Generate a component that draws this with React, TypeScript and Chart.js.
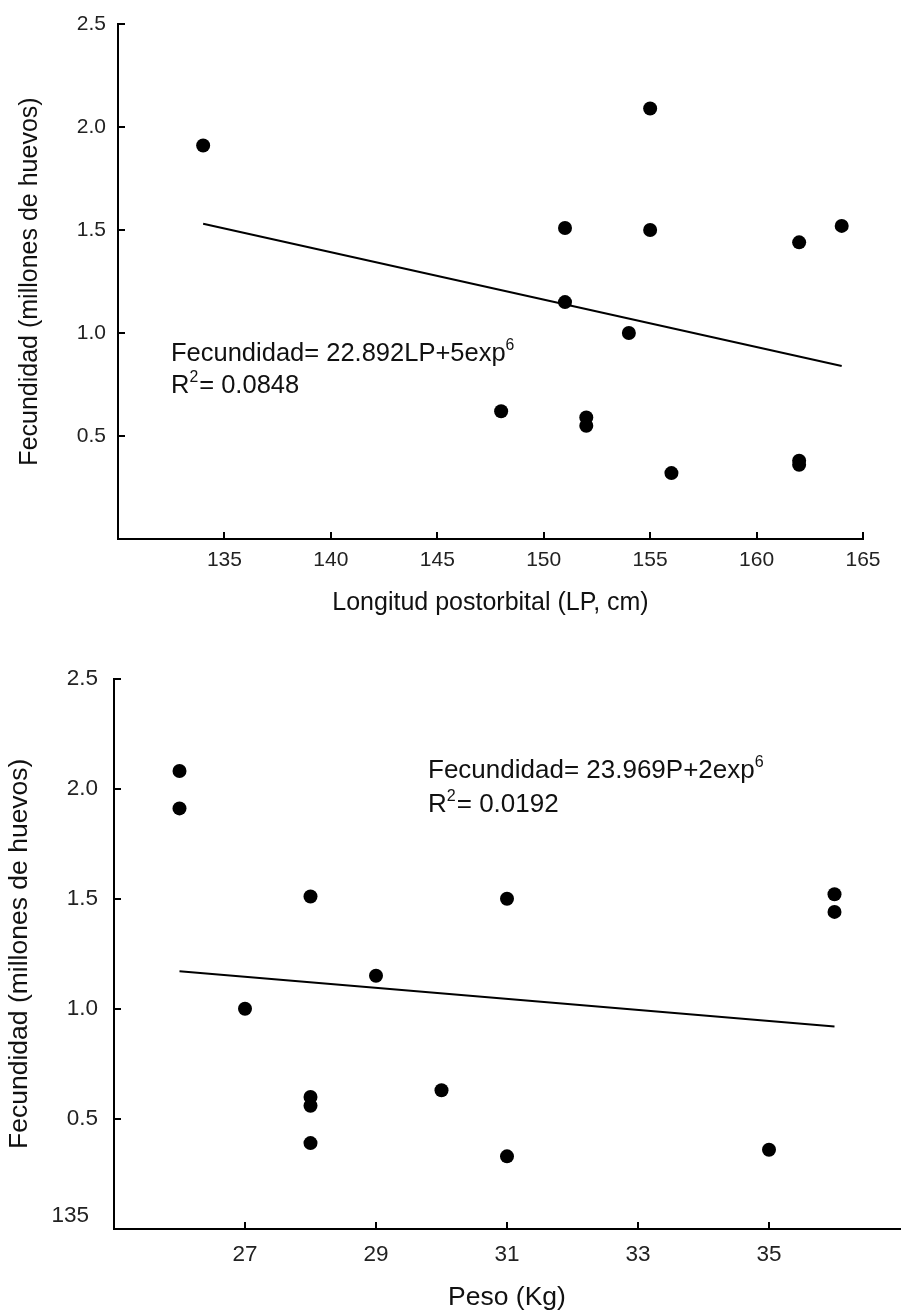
import React, { useEffect, useRef } from "react";
import { Chart, registerables } from "chart.js";

Chart.register(...registerables);

const FONT = "'Liberation Sans', Arial, Helvetica, sans-serif";

// ---- Top chart: fecundity vs postorbital length ----
const lpValues = [134, 148, 151, 151, 152, 152, 154, 155, 155, 156, 162, 162, 162, 164];
const lpFecundity = [1.91, 0.62, 1.51, 1.15, 0.59, 0.55, 1.0, 2.09, 1.5, 0.32, 1.44, 0.38, 0.36, 1.52];
const lpTrendX = [134, 164];
const lpTrendY = [1.53, 0.84];
const lpXTicks = [135, 140, 145, 150, 155, 160, 165];
const lpEquation = "Fecundidad= 22.892LP+5exp";
const lpEquationSup = "6";
const lpR2 = "= 0.0848";

// ---- Bottom chart: fecundity vs weight ----
const pesoValues = [26, 26, 27, 28, 28, 28, 28, 29, 30, 31, 31, 35, 36, 36];
const pesoFecundity = [2.08, 1.91, 1.0, 1.51, 0.6, 0.56, 0.39, 1.15, 0.63, 1.5, 0.33, 0.36, 1.52, 1.44];
const pesoTrendX = [26, 36];
const pesoTrendY = [1.17, 0.92];
const pesoXTicks = [27, 29, 31, 33, 35];
const pesoEquation = "Fecundidad= 23.969P+2exp";
const pesoEquationSup = "6";
const pesoR2 = "= 0.0192";
const pesoStrayLabel = "135";

const fecTicks = [0.5, 1.0, 1.5, 2.0, 2.5];
const yTitle = "Fecundidad (millones de huevos)";

const innerTicks = {
  id: "innerTicks",
  afterDraw(chart: any, _args: any, opts: any) {
    const { ctx } = chart;
    const xs = chart.scales.x;
    const ys = chart.scales.y;
    ctx.save();
    ctx.strokeStyle = "#000";
    ctx.lineWidth = 2;
    ctx.beginPath();
    for (const v of opts.xTicks || []) {
      const px = Math.round(xs.getPixelForValue(v));
      ctx.moveTo(px, xs.top);
      ctx.lineTo(px, xs.top - opts.len);
    }
    for (const v of opts.yTicks || []) {
      const py = Math.round(ys.getPixelForValue(v));
      ctx.moveTo(ys.right, py);
      ctx.lineTo(ys.right + opts.len, py);
    }
    ctx.stroke();
    ctx.restore();
  },
};

const equationText = {
  id: "equationText",
  afterDraw(chart: any, _args: any, opts: any) {
    if (!opts.lines) return;
    const { ctx } = chart;
    ctx.save();
    ctx.fillStyle = "#111";
    ctx.textBaseline = "middle";
    ctx.textAlign = "left";
    for (const line of opts.lines) {
      let x = line.x;
      for (const part of line.parts) {
        const size = part.sup ? opts.size * 0.62 : opts.size;
        ctx.font = `${size}px ${FONT}`;
        const dy = part.sup ? -opts.size * 0.32 : 0;
        ctx.fillText(part.text, x, line.y + dy);
        x += ctx.measureText(part.text).width + (part.sup ? 1 : 0);
      }
    }
    if (opts.stray) {
      const ys = chart.scales.y;
      ctx.fillStyle = "#222";
      ctx.textAlign = "right";
      ctx.font = `${opts.stray.size}px ${FONT}`;
      ctx.fillText(opts.stray.text, ys.right - opts.stray.dx, ys.getPixelForValue(0) - opts.stray.dy);
    }
    ctx.restore();
  },
};

function makeConfig(p: any) {
  return {
    type: "scatter",
    data: {
      datasets: [
        {
          type: "scatter",
          data: p.xs.map((x: number, i: number) => ({ x, y: p.ys[i] })),
          pointRadius: 7,
          pointBackgroundColor: "#000",
          pointBorderWidth: 0,
          pointHoverRadius: 7,
          clip: false,
          order: 1,
        },
        {
          type: "line",
          data: p.tx.map((x: number, i: number) => ({ x, y: p.ty[i] })),
          borderColor: "#000",
          borderWidth: 2,
          pointRadius: 0,
          fill: false,
          order: 2,
        },
      ],
    },
    options: {
      responsive: false,
      animation: false,
      layout: { padding: p.padding, autoPadding: false },
      plugins: {
        legend: { display: false },
        tooltip: { enabled: false },
        innerTicks: { xTicks: p.xTicks, yTicks: fecTicks, len: 7 },
        equationText: p.equation,
      },
      scales: {
        x: {
          type: "linear",
          min: p.xMin,
          max: p.xMax,
          afterBuildTicks: (a: any) => {
            a.ticks = p.xTicks.map((v: number) => ({ value: v }));
          },
          afterFit: (a: any) => {
            a.height = p.xHeight;
            a.paddingLeft = 0;
            a.paddingRight = 0;
          },
          grid: { display: false, drawTicks: false },
          border: { display: true, color: "#000", width: 2 },
          ticks: {
            padding: p.xPad,
            color: "#222",
            font: { family: FONT, size: p.tickSize },
            maxRotation: 0,
            autoSkip: false,
            callback: (v: any) => String(v),
          },
          title: {
            display: true,
            text: p.xTitle,
            color: "#111",
            font: { family: FONT, size: p.titleSize },
            padding: { top: 0, bottom: p.xTitlePad },
          },
        },
        y: {
          type: "linear",
          min: 0,
          max: 2.5,
          afterBuildTicks: (a: any) => {
            a.ticks = fecTicks.map((v: number) => ({ value: v }));
          },
          afterFit: (a: any) => {
            a.width = p.yWidth;
            a.paddingTop = 0;
            a.paddingBottom = 0;
          },
          grid: { display: false, drawTicks: false },
          border: { display: true, color: "#000", width: 2 },
          ticks: {
            padding: p.yPad,
            color: "#222",
            font: { family: FONT, size: p.tickSize },
            autoSkip: false,
            callback: (v: any) => Number(v).toFixed(1),
          },
          title: {
            display: true,
            text: yTitle,
            color: "#111",
            font: { family: FONT, size: p.titleSize },
            padding: { top: p.yTitlePad, bottom: 0 },
          },
        },
      },
    },
    plugins: [innerTicks, equationText],
  };
}

export default function App() {
  const topRef = useRef<HTMLCanvasElement | null>(null);
  const botRef = useRef<HTMLCanvasElement | null>(null);

  useEffect(() => {
    const top = new Chart(
      topRef.current as HTMLCanvasElement,
      makeConfig({
        xs: lpValues,
        ys: lpFecundity,
        tx: lpTrendX,
        ty: lpTrendY,
        xTicks: lpXTicks,
        xMin: 130,
        xMax: 165,
        padding: { top: 24, right: 38, left: 0, bottom: 0 },
        xHeight: 101,
        yWidth: 118,
        xPad: 9,
        yPad: 12,
        tickSize: 21,
        titleSize: 25,
        xTitlePad: 22,
        yTitlePad: 15,
        xTitle: "Longitud postorbital (LP, cm)",
        equation: {
          size: 25.5,
          lines: [
            { x: 171, y: 354, parts: [{ text: lpEquation }, { text: lpEquationSup, sup: true }] },
            { x: 171, y: 386, parts: [{ text: "R" }, { text: "2", sup: true }, { text: lpR2 }] },
          ],
        },
      }) as any
    );
    const bot = new Chart(
      botRef.current as HTMLCanvasElement,
      makeConfig({
        xs: pesoValues,
        ys: pesoFecundity,
        tx: pesoTrendX,
        ty: pesoTrendY,
        xTicks: pesoXTicks,
        xMin: 25,
        xMax: 37,
        padding: { top: 38.5, right: 1, left: 0, bottom: 0 },
        xHeight: 85,
        yWidth: 114,
        xPad: 12,
        yPad: 16,
        tickSize: 22.5,
        titleSize: 26.5,
        xTitlePad: 0,
        yTitlePad: 4,
        xTitle: "Peso (Kg)",
        equation: {
          size: 26,
          lines: [
            { x: 428, y: 131, parts: [{ text: pesoEquation }, { text: pesoEquationSup, sup: true }] },
            { x: 428, y: 165, parts: [{ text: "R" }, { text: "2", sup: true }, { text: pesoR2 }] },
          ],
          stray: { text: pesoStrayLabel, size: 22.5, dx: 25, dy: 13 },
        },
      }) as any
    );
    return () => {
      top.destroy();
      bot.destroy();
    };
  }, []);

  return (
    <div style={{ position: "absolute", left: 0, top: 0, width: 901, height: 1314, overflow: "hidden", background: "#fff" }}>
      <canvas ref={topRef} width={901} height={640} style={{ position: "absolute", left: 0, top: 0, display: "block" }} />
      <canvas ref={botRef} width={901} height={674} style={{ position: "absolute", left: 0, top: 640, display: "block" }} />
    </div>
  );
}
